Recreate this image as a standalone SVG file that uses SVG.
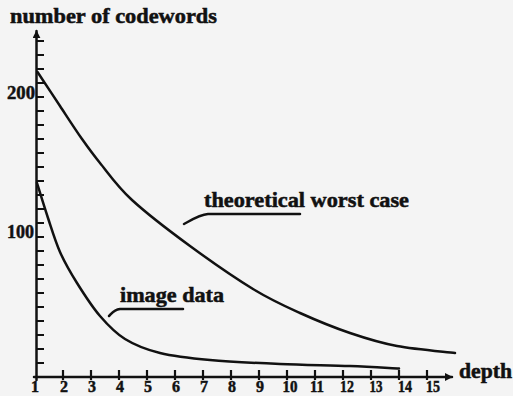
<svg xmlns="http://www.w3.org/2000/svg" width="513" height="396" viewBox="0 0 513 396">
<style>
.ink{stroke:#111;fill:none;stroke-width:2.5;stroke-linecap:round;stroke-linejoin:round}
.tick{stroke:#111;stroke-width:2.2}
.t{font-family:'Liberation Serif','Times New Roman',Times,serif;font-weight:700;fill:#111;stroke:#111;stroke-width:0.5}
.n{font-size:17px;text-anchor:middle}
</style>
<defs>
<marker id="arr" viewBox="0 0 10 10" refX="9" refY="5" markerWidth="3.2" markerHeight="3.2" orient="auto" markerUnits="strokeWidth">
<path d="M0,0 L10,5 L0,10 Z" fill="#111"/>
</marker>
</defs>
<rect width="513" height="396" fill="#f4f4f4"/>
<g id="axes">
<line class="ink" x1="36.5" y1="380" x2="36.5" y2="31" marker-end="url(#arr)"/>
<line class="ink" x1="34" y1="377" x2="452" y2="377" marker-end="url(#arr)"/>
<g id="y-ticks">
<path class="tick" d="M36.5,41H44M36.5,55H44M36.5,69H44M36.5,83H44M36.5,97H44M36.5,111H44M36.5,125H44M36.5,139H44M36.5,153H44M36.5,167H44M36.5,181H44M36.5,195H44M36.5,209H44M36.5,223H44M36.5,237H44M36.5,251H44M36.5,265H44M36.5,279H44M36.5,293H44M36.5,307H44M36.5,321H44M36.5,335H44M36.5,349H44M36.5,363H44"/>
</g>
<g id="x-ticks">
<path class="tick" d="M63,370V380M91,370V380M119,370V380M147,370V380M175,370V380M203,370V380M231,370V380M259,370V380M287,370V380M315,370V380M343,370V380M371,370V380M399,370V380M427,370V380"/>
</g>
</g>
<g id="axis-labels">
<text class="t" x="10" y="22.5" font-size="20" textLength="207" lengthAdjust="spacingAndGlyphs">number of codewords</text>
<text class="t" x="459" y="378" font-size="20" textLength="53" lengthAdjust="spacingAndGlyphs">depth</text>
<text class="t" x="7" y="98.5" font-size="19" textLength="28" lengthAdjust="spacingAndGlyphs">200</text>
<text class="t" x="7" y="238" font-size="19" textLength="27" lengthAdjust="spacingAndGlyphs">100</text>
<g id="x-numbers" class="t n">
<text x="35" y="392" textLength="8" lengthAdjust="spacingAndGlyphs">1</text>
<text x="64" y="392" textLength="8" lengthAdjust="spacingAndGlyphs">2</text>
<text x="92" y="392" textLength="8" lengthAdjust="spacingAndGlyphs">3</text>
<text x="120" y="392" textLength="8" lengthAdjust="spacingAndGlyphs">4</text>
<text x="148" y="392" textLength="8" lengthAdjust="spacingAndGlyphs">5</text>
<text x="176" y="392" textLength="8" lengthAdjust="spacingAndGlyphs">6</text>
<text x="204" y="392" textLength="8" lengthAdjust="spacingAndGlyphs">7</text>
<text x="232" y="392" textLength="8" lengthAdjust="spacingAndGlyphs">8</text>
<text x="260" y="392" textLength="8" lengthAdjust="spacingAndGlyphs">9</text>
<text x="290" y="392" textLength="15" lengthAdjust="spacingAndGlyphs">10</text>
<text x="317" y="392" textLength="14" lengthAdjust="spacingAndGlyphs">11</text>
<text x="347" y="392" textLength="14" lengthAdjust="spacingAndGlyphs">12</text>
<text x="376" y="392" textLength="13" lengthAdjust="spacingAndGlyphs">13</text>
<text x="405" y="392" textLength="14" lengthAdjust="spacingAndGlyphs">14</text>
<text x="433" y="392" textLength="14" lengthAdjust="spacingAndGlyphs">15</text>
</g>
</g>
<g id="theoretical-worst-case">
<path class="ink" d="M37.5,72 C41.25,77.7 52.6,94.8 60,106 C67.4,117.2 75.3,129.5 82,139 C88.7,148.5 91.7,152.8 100,163 C108.3,173.2 117,186.2 132,200 C147,213.8 169.8,231.2 190,246 C210.2,260.8 234.7,277.8 253,289 C271.3,300.2 283.8,305.7 300,313 C316.2,320.3 333.8,327.5 350,333 C366.2,338.5 379.5,342.7 397,346 C414.5,349.3 445.3,351.8 455,353"/>
<text class="t" x="204" y="207" font-size="20" textLength="205" lengthAdjust="spacingAndGlyphs">theoretical worst case</text>
</g>
<g id="image-data">
<path class="ink" d="M37,183 C38.8,188.8 44.2,206.5 48,218 C51.8,229.5 55.2,241.2 60,252 C64.8,262.8 70.3,272.3 77,283 C83.7,293.7 92,306.7 100,316 C108,325.3 115,332.8 125,339 C135,345.2 145.8,349.5 160,353 C174.2,356.5 190,358.2 210,360 C230,361.8 256.7,363 280,364 C303.3,365 330.2,365.25 350,366 C369.8,366.75 390.8,368.1 399,368.5"/>
<text class="t" x="120" y="301.5" font-size="20" textLength="104" lengthAdjust="spacingAndGlyphs">image data</text>
</g>
<g id="connectors">
<path class="ink" d="M300,214 H208 C200,214.5 193,219 184,224" stroke-width="2.4"/>
<path class="ink" d="M183,309 H120 C114,309.5 112,313 109,316" stroke-width="2.4"/>
</g>
</svg>
